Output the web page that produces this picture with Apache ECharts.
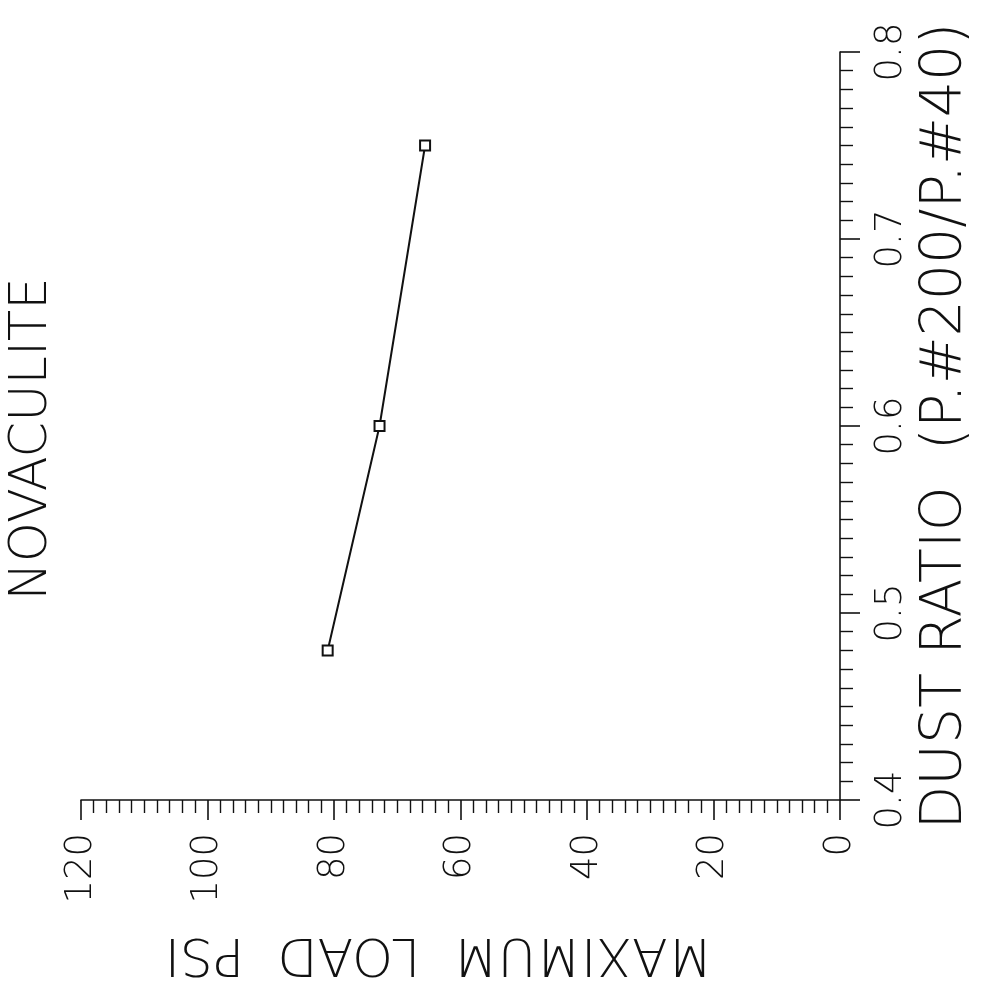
<!DOCTYPE html>
<html>
<head>
<meta charset="utf-8">
<script src="https://cdn.jsdelivr.net/npm/echarts@6/dist/echarts.min.js"></script>
<style>
html,body{margin:0;padding:0;background:#fff;}
#chart{width:981px;height:987px;}
</style>
</head>
<body>
<div id="chart"></div>
<script>
// Data read from the (rotated) reference chart
const title = "NOVACULITE";
const xName = "DUST RATIO  (P.#200/P.#40)";
const yName = "MAXIMUM  LOAD  PSI";
const dustRatio = [0.48, 0.60, 0.75];
const maxLoad = [81.0, 72.8, 65.6];
const loadTicks = [0, 20, 40, 60, 80, 100, 120];
const ratioTicks = [0.4, 0.5, 0.6, 0.7, 0.8];

const FONT = "DejaVu Sans";
const WEIGHT = 200;
const INK = "#111";
const chart = echarts.init(document.getElementById('chart'), null, {renderer: 'canvas'});

// Points as [load, ratio] because the whole figure is rotated 90 degrees
const points = dustRatio.map((r, i) => [maxLoad[i], r]);

const option = {
  backgroundColor: '#fff',
  animation: false,
  grid: {left: 81, right: 141, top: 52, bottom: 187, containLabel: false, outerBoundsMode: 'none'},
  graphic: [{
    type: 'text',
    x: 33, y: 439,
    rotation: Math.PI / 2,
    style: {
      text: title, fontFamily: FONT, fontSize: 51, fontWeight: WEIGHT, fill: INK,
      align: 'center', verticalAlign: 'middle'
    }
  }],
  xAxis: {
    type: 'value',
    inverse: true,
    position: 'bottom',
    min: loadTicks[0], max: loadTicks[loadTicks.length - 1], interval: 20,
    name: yName,
    nameLocation: 'middle',
    nameRotate: 180,
    nameGap: 127,
    nameTextStyle: {fontFamily: FONT, fontSize: 52, fontWeight: WEIGHT, color: INK, padding: [0, 0, 0, 44]},
    axisLine: {show: true, lineStyle: {color: INK, width: 1.6}},
    axisTick: {show: true, length: 20, lineStyle: {color: INK, width: 1.6}},
    minorTick: {show: true, splitNumber: 10, length: 13, lineStyle: {color: INK, width: 1.4}},
    splitLine: {show: false},
    axisLabel: {rotate: 90, margin: 33, fontFamily: FONT, fontSize: 37, fontWeight: WEIGHT, color: INK,
      formatter: v => String(v)}
  },
  yAxis: {
    type: 'value',
    position: 'right',
    min: ratioTicks[0], max: ratioTicks[ratioTicks.length - 1], interval: 0.1,
    name: xName,
    nameLocation: 'middle',
    nameRotate: 90,
    nameGap: 77,
    nameTextStyle: {fontFamily: FONT, fontSize: 57, fontWeight: WEIGHT, color: INK, padding: [0, 0, 0, 0]},
    axisLine: {show: true, lineStyle: {color: INK, width: 1.6}},
    axisTick: {show: true, length: 20, lineStyle: {color: INK, width: 1.6}},
    minorTick: {show: true, splitNumber: 10, length: 13, lineStyle: {color: INK, width: 1.4}},
    splitLine: {show: false},
    axisLabel: {rotate: 90, margin: 33, fontFamily: FONT, fontSize: 37, fontWeight: WEIGHT, color: INK,
      formatter: v => v.toFixed(1)}
  },
  series: [{
    type: 'line',
    data: points,
    symbol: 'rect',
    symbolSize: 10,
    lineStyle: {color: INK, width: 2},
    itemStyle: {color: '#fff', borderColor: INK, borderWidth: 2}
  }]
};
chart.setOption(option);
</script>
</body>
</html>
